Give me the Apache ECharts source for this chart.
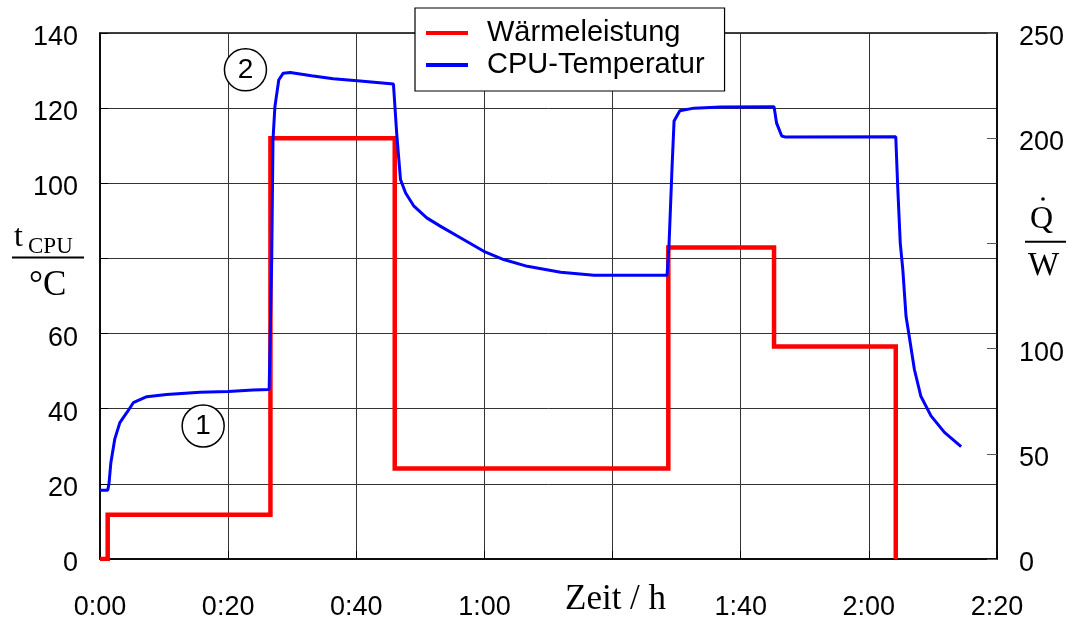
<!DOCTYPE html>
<html>
<head>
<meta charset="utf-8">
<script src="https://cdn.jsdelivr.net/npm/echarts@6/dist/echarts.min.js"></script>
<style>html,body{margin:0;padding:0;background:#fff}#c{width:1075px;height:621px}</style>
</head>
<body>
<div id="c"></div>
<script>
// time in minutes
const xTickLabels = ['0:00','0:20','0:40','1:00','','1:40','2:00','2:20'];
const leftTicks = [0,20,40,60,80,100,120,140];
const leftHidden = [80];
const rightTicks = [0,50,100,150,200,250];
const rightHidden = [150];

const seriesNames = ['Wärmeleistung','CPU-Temperatur'];

// Wärmeleistung (W), step profile [minute, W]
const heatPower = [[0,0],[1.2,0],[1.2,21],[26.6,21],[26.6,200],[46.0,200],[46.0,43],[88.7,43],[88.7,148],[105.2,148],[105.2,101],[124.2,101],[124.2,0]];

// CPU temperature (°C) [minute, °C]
const cpuTemp = [[0,18.3],[1.2,18.3],[1.4,20],[1.7,25.7],[2.3,31.9],[3.1,36.3],[4.2,39],[5.2,41.6],[7.3,43.2],[10.4,43.8],[15.6,44.4],[20,44.6],[23.9,45],[26.4,45.1],[26.8,80],[27.0,111.6],[27.3,120.4],[27.9,127.5],[28.6,129.3],[29.7,129.5],[33,128.6],[36.4,127.8],[40.6,127.2],[45.8,126.4],[46.3,113.4],[46.9,101],[47.7,97.4],[49,93.9],[51,90.8],[53.1,88.6],[56.25,85.5],[59.9,81.9],[63,79.7],[66.7,77.9],[71.9,76.3],[77.1,75.5],[88.5,75.5],[88.8,83.2],[89.3,105],[89.6,116.6],[90.5,119.3],[92.7,120],[96.9,120.3],[105.2,120.4],[105.6,116],[106.4,112.6],[107,112.3],[124.2,112.4],[124.5,99.2],[124.9,84.1],[125.3,77],[125.8,64.6],[126.3,59.3],[127.1,50.5],[128.1,43.4],[129.7,38.1],[131.8,33.7],[134.4,29.9]];

// circled annotations [minute, °C, label]
const annotations = [[16.1,35.4,'1'],[22.7,130.2,'2']];

const chart = echarts.init(document.getElementById('c'), null, {renderer:'canvas'});
const sans = 'Liberation Sans';
const gridCol = '#333';

chart.setOption({
  animation: false,
  backgroundColor: '#fff',
  grid: {left: 100, right: 78, top: 33, bottom: 61, show: true, borderColor: '#000', borderWidth: 1.5, backgroundColor: 'transparent'},
  legend: {
    orient: 'vertical', left: 415, top: 8,
    padding: [10, 20, 11, 11],
    itemGap: 2, itemWidth: 42, itemHeight: 4,
    backgroundColor: '#fff', borderColor: '#000', borderWidth: 1.2,
    textStyle: {fontFamily: sans, fontSize: 29, lineHeight: 30, color: '#000', padding: [0,0,0,14]},
    data: [
      {name: seriesNames[0], icon: 'rect', itemStyle: {color: '#ff0000'}},
      {name: seriesNames[1], icon: 'rect', itemStyle: {color: '#0000ff'}}
    ]
  },
  xAxis: {
    type: 'value', min: 0, max: 140, interval: 20,
    axisLine: {show: true, lineStyle: {color: '#000', width: 1.5}},
    axisTick: {show: true, inside: true, length: 8, lineStyle: {color: '#000'}},
    splitLine: {show: true, lineStyle: {color: gridCol, width: 1}},
    axisLabel: {fontFamily: sans, fontSize: 27, color: '#000', margin: 35,
      formatter: function (v) { return xTickLabels[Math.round(v / 20)] || ''; }}
  },
  yAxis: [
    {
      type: 'value', min: leftTicks[0], max: leftTicks[leftTicks.length-1], interval: 20, position: 'left',
      axisLine: {show: true, lineStyle: {color: '#000', width: 1.5}},
      axisTick: {show: true, inside: true, length: 8, lineStyle: {color: '#000'}},
      splitLine: {show: true, lineStyle: {color: gridCol, width: 1}},
      axisLabel: {fontFamily: sans, fontSize: 27, color: '#000', margin: 22, verticalAlign: 'top', lineHeight: 9,
        formatter: function (v) { return leftHidden.indexOf(v) >= 0 ? '' : String(v); }}
    },
    {
      type: 'value', min: rightTicks[0], max: rightTicks[rightTicks.length-1], interval: 50, position: 'right',
      axisLine: {show: true, lineStyle: {color: '#000', width: 1.5}},
      axisTick: {show: true, inside: true, length: 10, lineStyle: {color: '#555'}},
      splitLine: {show: false},
      axisLabel: {fontFamily: sans, fontSize: 27, color: '#000', margin: 22, verticalAlign: 'top', lineHeight: 9,
        formatter: function (v) { return rightHidden.indexOf(v) >= 0 ? '' : String(v); }}
    }
  ],
  series: [
    {
      name: seriesNames[0], type: 'line', yAxisIndex: 1, data: heatPower,
      showSymbol: false, symbol: 'none', z: 3,
      lineStyle: {color: '#ff0000', width: 4.5, join: 'miter', cap: 'butt'},
      itemStyle: {color: '#ff0000'}
    },
    {
      name: seriesNames[1], type: 'line', yAxisIndex: 0, data: cpuTemp,
      showSymbol: false, symbol: 'none', z: 4,
      lineStyle: {color: '#0000ff', width: 3},
      itemStyle: {color: '#0000ff'}
    },
    {
      name: 'annotations', type: 'scatter', yAxisIndex: 0, z: 5, silent: true,
      symbol: 'circle', symbolSize: 42,
      itemStyle: {color: '#fff', borderColor: '#000', borderWidth: 1.5, opacity: 1},
      label: {show: true, position: 'inside', color: '#000',
        formatter: function (p) { return '{n|' + p.data[2] + '}'; },
        rich: {n: {fontFamily: sans, fontSize: 28, color: '#000', lineHeight: 30}}},
      data: annotations
    }
  ],
  graphic: [
    // left axis title: t_CPU / °C
    {type: 'text', left: 14, top: 222, style: {text: 't', font: '32px "Liberation Serif"', fill: '#000'}},
    {type: 'text', left: 28, top: 235, style: {text: 'CPU', font: '23px "Liberation Serif"', fill: '#000'}},
    {type: 'line', shape: {x1: 12, y1: 257.5, x2: 84, y2: 257.5}, style: {stroke: '#000', lineWidth: 2}},
    {type: 'text', left: 29, top: 268, style: {text: '°C', font: '35px "Liberation Serif"', fill: '#000'}},
    // right axis title: Q̇ / W
    {type: 'text', left: 1030, top: 204, style: {text: 'Q', font: '32px "Liberation Serif"', fill: '#000'}},
    {type: 'circle', shape: {cx: 1043, cy: 199, r: 1.8}, style: {fill: '#000'}},
    {type: 'line', shape: {x1: 1025, y1: 241.7, x2: 1066, y2: 241.7}, style: {stroke: '#000', lineWidth: 2}},
    {type: 'text', left: 1028, top: 250, style: {text: 'W', font: '33px "Liberation Serif"', fill: '#000'}},
    // x axis title
    {type: 'text', left: 565, top: 582, style: {text: 'Zeit / h', font: '35px "Liberation Serif"', fill: '#000'}}
  ]
});
</script>
</body>
</html>
